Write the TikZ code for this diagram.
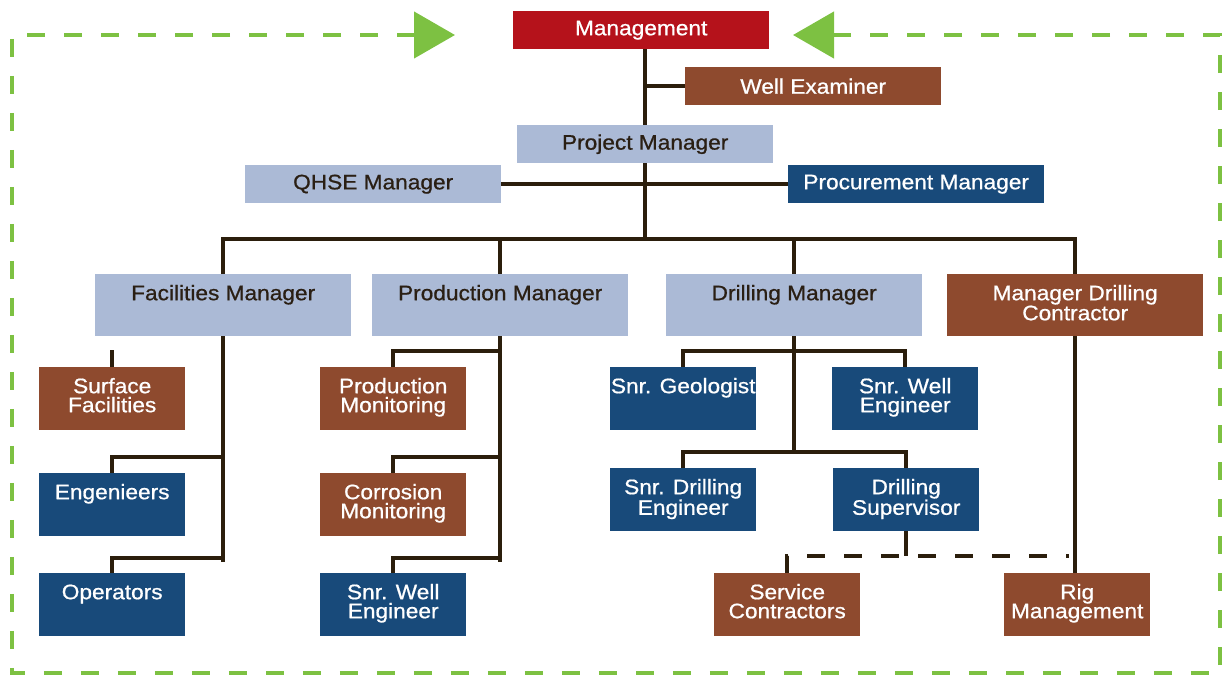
\documentclass[tikz,border=0pt]{standalone}
\usepackage{fontspec}
\setmainfont{Liberation Sans}[FakeStretch=1.08, FakeBold=0.8]
\usepackage{tikz}
\usetikzlibrary{arrows.meta}
\definecolor{mgmtred}{HTML}{B5121B}
\definecolor{rust}{HTML}{8E4A2E}
\definecolor{pale}{HTML}{ABBAD6}
\definecolor{navy}{HTML}{184A7A}
\definecolor{wire}{HTML}{2B1E0C}
\definecolor{ink}{HTML}{2A1F14}
\definecolor{loopgreen}{HTML}{7DC142}
\setlength{\lineskiplimit}{-20pt}
\newcommand{\cellbox}[3]{\parbox[c][#2][t]{#1}{\centering\rule{0pt}{26pt}#3}}

\begin{document}
\begin{tikzpicture}[x=1pt, y=-1pt,
  orgbox/.style={inner sep=0pt, anchor=north west, font=\fontsize{21}{19}\selectfont},
  head/.style={orgbox, minimum width=256pt, minimum height=38pt},
  redbox/.style={fill=mgmtred, text=white},
  rustbox/.style={fill=rust, text=white},
  palebox/.style={fill=pale, text=ink},
  navybox/.style={fill=navy, text=white},
  link/.style={draw=wire, line width=4pt},
  loopline/.style={draw=loopgreen, line width=4.5pt, dash pattern=on 18pt off 19pt}]
\useasboundingbox (0,0) rectangle (1228,675);

\node [head, redbox] (mgmt) at (513,11) {Management};
\node [head, rustbox] (we) at (685,67) {Well Examiner};
\node [head, palebox] (pm) at (517,125) {Project Manager};
\node [head, palebox] (qhse) at (245,165) {QHSE Manager};
\node [head, navybox] (proc) at (788,165) {Procurement Manager};

\node [orgbox, palebox] (fac) at (95,274) {\cellbox{256pt}{62pt}{Facilities Manager}};
\node [orgbox, palebox] (prod) at (372,274) {\cellbox{256pt}{62pt}{Production Manager}};
\node [orgbox, palebox] (drill) at (666,274) {\cellbox{256pt}{62pt}{Drilling Manager}};
\node [orgbox, rustbox] (mdc) at (947,274) {\cellbox{256pt}{62pt}{Manager Drilling\\Contractor}};

\node [orgbox, rustbox] (sf) at (39,367) {\cellbox{146pt}{63pt}{Surface\\Facilities}};
\node [orgbox, navybox] (eng) at (39,473) {\cellbox{146pt}{63pt}{Engenieers}};
\node [orgbox, navybox] (ops) at (39,573) {\cellbox{146pt}{63pt}{Operators}};

\node [orgbox, rustbox] (pmon) at (320,367) {\cellbox{146pt}{63pt}{Production\\Monitoring}};
\node [orgbox, rustbox] (cmon) at (320,473) {\cellbox{146pt}{63pt}{Corrosion\\Monitoring}};
\node [orgbox, navybox] (pwe) at (320,573) {\cellbox{146pt}{63pt}{Snr. Well\\Engineer}};

\node [orgbox, navybox] (geo) at (610,367) {\cellbox{146pt}{63pt}{Snr. Geologist}};
\node [orgbox, navybox] (dwe) at (832,367) {\cellbox{146pt}{63pt}{Snr. Well\\Engineer}};
\node [orgbox, navybox] (sde) at (610,468) {\cellbox{146pt}{63pt}{Snr. Drilling\\Engineer}};
\node [orgbox, navybox] (sup) at (833,468) {\cellbox{146pt}{63pt}{Drilling\\Supervisor}};

\node [orgbox, rustbox] (sc) at (714,573) {\cellbox{146pt}{63pt}{Service\\Contractors}};
\node [orgbox, rustbox] (rig) at (1004,573) {\cellbox{146pt}{63pt}{Rig\\Management}};

\coordinate (bus) at (646,239);
\coordinate (loopL) at (455,35);
\coordinate (loopR) at (793,35);

\draw [link] (pm.north |- mgmt.south) -- (pm.north);
\draw [link] (we.west) -- (we.west -| pm.north);
\draw [link] (pm.south) -- (pm.south |- bus);
\draw [link] (qhse.east) -- (proc.west);
\draw [link] (fac.north) |- (bus) -| (mdc.north);
\draw [link] (prod.north) -- (prod.north |- bus);
\draw [link] (drill.north) -- (drill.north |- bus);

\draw [link] (sf.north) -- ++(0,-17);
\draw [link] (fac.south) -- ++(0,226);
\draw [link] (eng.north) -- ++(0,-16) -| (fac.south);
\draw [link] (ops.north) -- ++(0,-15) -| (fac.south);

\draw [link] (prod.south) -- ++(0,226);
\draw [link] (pmon.north) -- ++(0,-16) -| (prod.south);
\draw [link] (cmon.north) -- ++(0,-16) -| (prod.south);
\draw [link] (pwe.north) -- ++(0,-15) -| (prod.south);

\draw [link] (geo.north) -- ++(0,-16) -| (drill.south);
\draw [link] (dwe.north) -- ++(0,-16) -| (drill.south);
\draw [link] (sde.north) -- ++(0,-16) -| (drill.south);
\draw [link] (sup.north) -- ++(0,-16) -| (drill.south);

\draw [link] (sup.south) -- ++(0,25);
\draw [link, dash pattern=on 18pt off 19pt] (sc.north) |- ([xshift=-8pt, yshift=17pt]rig.north);
\draw [link] (mdc.south) -- (mdc.south |- rig.north);

\draw [loopline, {Triangle[length=41pt, width=46pt]}-{Triangle[length=41pt, width=46pt]}] (loopL) -- (12,35) -- (12,673) -- (1220,673) -- (1220,35) -- (loopR);
\end{tikzpicture}
\end{document}
